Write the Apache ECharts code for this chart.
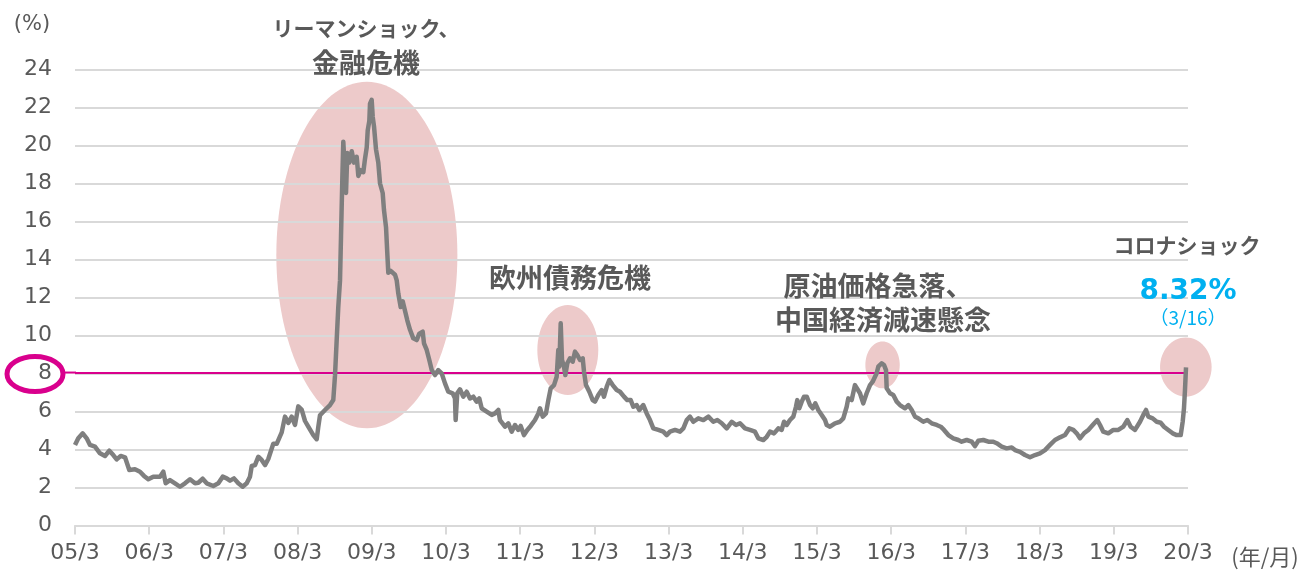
<!DOCTYPE html>
<html>
<head>
<meta charset="utf-8">
<script src="https://cdn.jsdelivr.net/npm/echarts@6/dist/echarts.min.js"></script>
<style>
  html, body { margin: 0; padding: 0; background: #fff; }
  #chart { width: 1308px; height: 571px; }
</style>
</head>
<body>
<div id="chart"></div>
<script>
// 目盛りラベル（05/3 から 12か月ごと）
const tickLabels = ['05/3', '06/3', '07/3', '08/3', '09/3', '10/3', '11/3', '12/3',
  '13/3', '14/3', '15/3', '16/3', '17/3', '18/3', '19/3', '20/3'];

// 05/3 からの経過月数
const months = [
  0.0, 0.53, 1.25, 1.89, 2.43, 3.23, 4.04, 4.85, 5.55, 6.19, 6.74, 7.39, 8.09, 8.78, 9.70,
  10.51, 11.16, 11.85, 12.66, 13.75, 14.28, 14.67, 15.36, 16.17, 16.98, 17.79, 18.60, 19.41,
  19.94, 20.65, 21.30, 22.37, 23.18, 23.89, 24.53, 25.07, 25.71, 26.41, 27.12, 27.77, 28.30,
  28.58, 29.11, 29.64, 30.19, 30.73, 31.26, 32.07, 32.62, 33.43, 33.96, 34.50, 35.05, 35.58,
  36.11, 36.66, 37.20, 37.73, 38.54, 39.09, 39.35, 39.62, 40.43, 41.24, 41.77, 42.05, 42.32,
  42.58, 42.86, 43.02, 43.23, 43.39, 43.67, 43.83, 44.04, 44.36, 44.75, 45.12, 45.56, 45.82,
  46.21, 46.63, 46.90, 47.18, 47.34, 47.60, 47.71, 47.98, 48.15, 48.36, 48.68, 49.05, 49.33,
  49.76, 49.97, 50.30, 50.51, 50.67, 51.06, 51.38, 51.75, 52.03, 52.29, 52.67, 53.00, 53.37,
  53.74, 54.18, 54.71, 55.26, 55.68, 56.23, 56.44, 56.88, 57.30, 57.69, 58.22, 58.75, 59.30,
  59.84, 60.37, 61.08, 61.45, 61.56, 61.82, 62.26, 62.79, 63.35, 63.88, 64.42, 64.96, 65.38,
  65.77, 66.58, 67.39, 67.93, 68.46, 68.73, 69.54, 70.08, 70.62, 71.16, 71.69, 72.08, 72.61,
  73.15, 73.70, 74.39, 74.93, 75.20, 75.64, 76.17, 76.55, 76.93, 77.47, 77.90, 78.16, 78.32,
  78.55, 78.76, 79.08, 79.30, 79.62, 80.05, 80.49, 80.86, 81.24, 81.67, 82.11, 82.32, 82.64,
  83.18, 83.73, 84.10, 84.63, 85.18, 85.55, 85.99, 86.41, 86.96, 87.61, 88.14, 88.79, 89.32,
  89.87, 90.29, 90.84, 91.26, 91.91, 92.46, 92.99, 93.53, 94.34, 95.14, 95.69, 96.23, 97.04,
  97.84, 98.38, 98.93, 99.46, 100.00, 100.81, 101.62, 102.43, 103.23, 103.88, 104.59, 105.40,
  106.21, 106.90, 107.55, 108.36, 109.16, 109.97, 110.51, 111.32, 111.87, 112.40, 113.05,
  113.74, 114.29, 114.66, 115.10, 115.63, 116.17, 116.60, 116.81, 117.14, 117.53, 117.90,
  118.34, 118.87, 119.31, 119.73, 120.21, 120.76, 121.30, 121.57, 122.10, 122.91, 123.72,
  124.25, 124.80, 125.06, 125.61, 126.14, 126.42, 126.95, 127.48, 128.03, 128.57, 129.00,
  129.38, 129.65, 129.91, 130.46, 130.84, 131.16, 131.27, 131.81, 132.34, 132.89, 133.42,
  134.23, 134.77, 135.32, 135.85, 136.39, 137.19, 137.84, 138.55, 139.36, 140.01, 140.54,
  141.24, 142.04, 142.85, 143.40, 144.21, 145.02, 145.55, 146.09, 146.90, 147.71, 148.51,
  149.06, 149.87, 150.68, 151.49, 152.02, 152.83, 153.64, 154.45, 155.26, 156.06, 156.87,
  157.68, 158.49, 159.30, 160.11, 160.80, 161.45, 162.00, 162.53, 163.18, 163.88, 164.59,
  165.33, 165.77, 166.30, 167.11, 167.92, 168.73, 169.54, 170.18, 170.73, 171.43, 172.24,
  172.77, 173.21, 173.58, 174.29, 174.94, 175.58, 176.12, 176.81, 177.52, 178.17, 178.82,
  179.14, 179.35, 179.51, 179.68
];

// 変動率（%）
const rates = [
  4.24, 4.59, 4.85, 4.59, 4.24, 4.15, 3.80, 3.66, 3.94, 3.71, 3.48, 3.66, 3.59, 2.92, 2.96,
  2.83, 2.61, 2.43, 2.57, 2.57, 2.83, 2.22, 2.39, 2.22, 2.04, 2.22, 2.43, 2.22,
  2.25, 2.46, 2.22, 2.08, 2.22, 2.57, 2.48, 2.36, 2.48, 2.22, 2.04, 2.22, 2.57,
  3.13, 3.18, 3.62, 3.45, 3.18, 3.50, 4.30, 4.30, 4.90, 5.73, 5.40, 5.73, 5.30,
  6.27, 6.10, 5.50, 5.20, 4.76, 4.54, 5.20, 5.80, 6.08, 6.34, 6.60, 7.90, 9.76,
  11.5, 12.9, 15.2, 18.2, 20.2, 20.1, 17.5, 19.6, 19.1, 19.7, 19.1, 19.4, 18.4,
  18.7, 18.6, 19.3, 19.9, 20.8, 21.3, 22.2, 22.4, 21.5, 21.0, 19.8, 19.1, 18.0,
  17.5, 16.6, 15.7, 14.3, 13.3, 13.4, 13.4, 13.2, 12.9, 12.2, 11.5, 11.8, 11.3,
  10.8, 10.3, 9.85, 9.76, 10.1, 10.2, 9.59, 9.24, 8.71, 8.18, 7.92, 8.18, 8.01,
  7.48, 7.04, 6.96, 6.70, 5.55, 6.96, 7.17, 6.78, 7.04, 6.69, 6.78, 6.52, 6.69,
  6.17, 5.99, 5.82, 5.90, 6.08, 5.55, 5.20, 5.38, 4.94, 5.29, 5.03, 5.24, 4.76,
  5.03, 5.24, 5.55, 5.90, 6.17, 5.73, 5.90, 6.60, 7.22, 7.39, 7.83, 9.24, 8.36,
  10.64, 8.71, 8.36, 7.92, 8.54, 8.80, 8.62, 9.15, 8.97, 8.71, 8.80, 8.09, 7.39,
  7.04, 6.60, 6.52, 6.87, 7.13, 6.78, 7.30, 7.66, 7.39, 7.13, 7.04, 6.78, 6.60,
  6.60, 6.25, 6.34, 6.08, 6.34, 5.90, 5.55, 5.11, 5.03, 4.94, 4.76, 4.94, 5.03,
  4.94, 5.11, 5.55, 5.73, 5.46, 5.64, 5.55, 5.73, 5.46, 5.55, 5.38, 5.11,
  5.46, 5.29, 5.38, 5.11, 5.03, 4.94, 4.59, 4.50, 4.67, 4.94, 4.85,
  5.11, 5.03, 5.46, 5.29, 5.55, 5.73, 6.25, 6.60, 6.17, 6.52, 6.78,
  6.78, 6.34, 6.17, 6.43, 6.08, 5.82, 5.55, 5.29, 5.20, 5.38, 5.46,
  5.64, 6.25, 6.69, 6.60, 7.39, 7.48, 6.96, 6.43, 6.96, 7.39, 7.57,
  7.83, 8.01, 8.36, 8.54, 8.45, 8.18, 7.22, 6.96, 6.87, 6.52, 6.34,
  6.17, 6.34, 6.08, 5.73, 5.64, 5.46, 5.55, 5.38, 5.29, 5.20, 5.03,
  4.76, 4.59, 4.50, 4.41, 4.50, 4.41, 4.18, 4.46, 4.50, 4.41, 4.41,
  4.33, 4.15, 4.06, 4.11, 3.97, 3.88, 3.71, 3.59, 3.71, 3.80, 3.97,
  4.24, 4.50, 4.64, 4.76, 5.11, 5.03, 4.85, 4.59, 4.85, 5.03, 5.29,
  5.55, 5.29, 4.94, 4.85, 5.03, 5.03, 5.20, 5.55, 5.20, 5.03, 5.46,
  5.82, 6.08, 5.73, 5.64, 5.46, 5.41, 5.20, 5.03, 4.85, 4.76, 4.76,
  5.46, 6.17, 7.13, 8.32
];

const thresholdLine = 8.05;

// 注目局面（中心の月・値と半径）
const eventAreas = [
  { month: 47.2, value: 14.24, rMonth: 14.64, rValue: 9.12 },
  { month: 79.7, value: 9.24, rMonth: 4.93, rValue: 2.37 },
  { month: 130.6, value: 8.45, rMonth: 2.78, rValue: 1.23 },
  { month: 179.65, value: 8.34, rMonth: 4.17, rValue: 1.56 }
];

const chart = echarts.init(document.getElementById('chart'), null, { renderer: 'canvas' });

const grayText = '#595959';
const blueText = '#00b0f0';
const magenta = '#d9008d';
const jpFont = '"Noto Sans CJK JP", sans-serif';

function label(text, x, y, size, opts) {
  return {
    type: 'text',
    z: 10,
    style: Object.assign({
      text: text,
      x: x,
      y: y,
      fill: grayText,
      fontSize: size,
      fontWeight: 'bold',
      fontFamily: jpFont,
      align: 'center',
      verticalAlign: 'middle'
    }, opts || {})
  };
}

const option = {
  animation: false,
  grid: { left: 75, right: 120, top: 69.5, bottom: 45.5, containLabel: false },
  xAxis: {
    type: 'value',
    min: 0,
    max: 180,
    interval: 12,
    axisLine: { show: true, lineStyle: { color: '#d9d9d9', width: 2 } },
    axisTick: { show: true, length: 9, lineStyle: { color: '#d9d9d9', width: 2 } },
    splitLine: { show: false },
    axisLabel: {
      margin: 17,
      color: grayText,
      fontSize: 22,
      fontFamily: 'DejaVu Sans',
      formatter: function (v) { return tickLabels[Math.round(v / 12)]; }
    }
  },
  yAxis: {
    type: 'value',
    min: 0,
    max: 24,
    interval: 2,
    axisLine: { show: false },
    axisTick: { show: false },
    splitLine: { lineStyle: { color: '#d9d9d9', width: 2 } },
    axisLabel: {
      margin: 23,
      color: grayText,
      fontSize: 22,
      fontFamily: 'DejaVu Sans'
    }
  },
  series: [
    {
      type: 'line',
      data: months.map((m, i) => [m, rates[i]]),
      showSymbol: false,
      symbol: 'none',
      z: 5,
      lineStyle: { color: '#7f7f7f', width: 4.5, join: 'round' },
      markLine: {
        silent: true,
        symbol: 'none',
        label: { show: false },
        lineStyle: { color: magenta, width: 2, type: 'solid' },
        data: [{ yAxis: thresholdLine }],
        z: 4
      }
    }
  ]
};

chart.setOption(option);

// 注目局面の楕円と注記
const ellipses = eventAreas.map(a => {
  const c = chart.convertToPixel({ gridIndex: 0 }, [a.month, a.value]);
  const e = chart.convertToPixel({ gridIndex: 0 }, [a.month + a.rMonth, a.value + a.rValue]);
  return {
    type: 'ellipse',
    z: -1,
    silent: true,
    shape: { cx: c[0], cy: c[1], rx: e[0] - c[0], ry: c[1] - e[1] },
    style: { fill: '#edcaca' }
  };
});

const lineY = chart.convertToPixel({ gridIndex: 0 }, [0, thresholdLine])[1];

chart.setOption({
  graphic: ellipses.concat([
    {
      type: 'line',
      z: 4,
      silent: true,
      shape: { x1: 62, y1: lineY, x2: 76, y2: lineY },
      style: { stroke: magenta, lineWidth: 2 }
    },
    {
      type: 'ellipse',
      z: 10,
      silent: true,
      shape: { cx: 35, cy: 374, rx: 28, ry: 17.5 },
      style: { fill: 'none', stroke: magenta, lineWidth: 5 }
    },
    label('(%)', 32, 25, 21, { fontWeight: 'normal', fontFamily: 'DejaVu Sans' }),
    label('(年/月)', 1265, 557, 22, { fontWeight: 'normal' }),
    label('リーマンショック、', 366, 28, 21),
    label('金融危機', 366, 63, 27),
    label('欧州債務危機', 570, 278, 27),
    label('原油価格急落、', 878, 286, 27),
    label('中国経済減速懸念', 883, 320, 27),
    label('コロナショック', 1187, 245, 21),
    label('8.32%', 1188, 292, 28, { fill: blueText, fontFamily: 'DejaVu Sans' }),
    label('（3/16）', 1188, 318, 19, { fill: blueText, fontWeight: 'normal' })
  ])
});

window.addEventListener('resize', function () { chart.resize(); });
</script>
</body>
</html>
